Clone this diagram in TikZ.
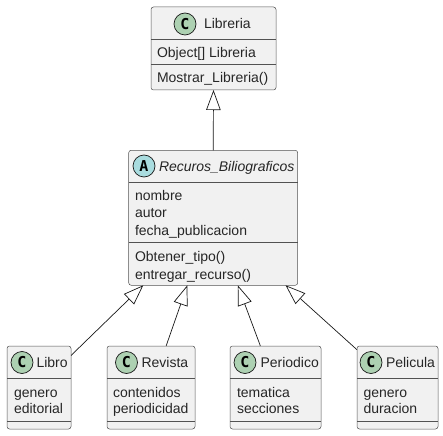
\documentclass[tikz,border=0pt]{standalone}
\usepackage{fontspec}
\setmainfont{Liberation Sans}
\newfontfamily\badgefont{DejaVu Sans Mono}
\usetikzlibrary{arrows.meta}
\definecolor{boxfill}{HTML}{F1F1F1}
\definecolor{boxline}{HTML}{181818}
\definecolor{cbadge}{HTML}{ADD1B2}
\definecolor{abadge}{HTML}{A9DCDF}
\tikzset{
  umlbox/.style={draw=boxline!75!white,fill=boxfill,line width=0.5pt,rounded corners=2.5pt,inner sep=0pt,outer sep=0pt,anchor=north west},
  rule/.style={draw=boxline!75!white,line width=0.4pt},
  txt/.style={anchor=base west,inner sep=0pt,outer sep=0pt,font=\fontsize{14}{16}\selectfont,text=black!85},
  itxt/.style={txt,font=\fontsize{14}{16}\selectfont\itshape},
  badge/.style={circle,draw=boxline,line width=0.7pt,minimum size=22pt,inner sep=0pt,font=\badgefont\bfseries\fontsize{15}{15}\selectfont},
  cb/.style={badge,fill=cbadge},
  ab/.style={badge,fill=abadge},
  inherit/.style={draw=boxline,line width=0.7pt,-{Triangle[open,length=20pt,width=14.5pt,fill=white]}}
}
\begin{document}
\begin{tikzpicture}[x=1pt,y=-1pt]
\useasboundingbox (0,0) rectangle (443,435);
% boxes
\node[umlbox,minimum width=125pt,minimum height=83pt] (libreria) at (151,7) {};
\node[umlbox,minimum width=169pt,minimum height=135pt] (recursos) at (128.7,150.3) {};
\node[umlbox,minimum width=64pt,minimum height=83pt] (libro) at (7,346) {};
\node[umlbox,minimum width=88pt,minimum height=83pt] (revista) at (107,346) {};
\node[umlbox,minimum width=91pt,minimum height=83pt] (periodico) at (230,346) {};
\node[umlbox,minimum width=81pt,minimum height=83pt] (pelicula) at (357,346) {};
% dividers
\draw[rule] (151,39.5) -- (276,39.5) (151,64.5) -- (276,64.5);
\draw[rule] (128.7,182.3) -- (297.7,182.3) (128.7,242.3) -- (297.7,242.3);
\draw[rule] (7,378) -- (71,378) (7,421.5) -- (71,421.5);
\draw[rule] (107,378) -- (195,378) (107,421.5) -- (195,421.5);
\draw[rule] (230,378) -- (321,378) (230,421.5) -- (321,421.5);
\draw[rule] (357,378) -- (438,378) (357,421.5) -- (438,421.5);
% badges
\node[cb] (blibreria) at (185,24) {C};
\node[ab] (brecursos) at (144,166) {A};
\node[cb] (blibro) at (22,362.5) {C};
\node[cb] (brevista) at (126.5,362.5) {C};
\node[cb] (bperiodico) at (245,362.5) {C};
\node[cb] (bpelicula) at (371,362.5) {C};
% titles
\node[txt] (tlibreria) at (204,29) {Libreria};
\node[itxt] (trecursos) at (159,171.5) {Recuros\_Biliograficos};
\node[txt] (tlibro) at (36.5,367.5) {Libro};
\node[txt] (trevista) at (141.5,367.5) {Revista};
\node[txt] (tperiodico) at (260.5,367.5) {Periodico};
\node[txt] (tpelicula) at (386,367.5) {Pelicula};
% members
\node[txt] (a1) at (157,58) {Object[] Libreria};
\node[txt] (m1) at (157,83) {Mostrar\_Libreria()};
\node[txt] (a2) at (135,200.5) {nombre};
\node[txt] (a3) at (135,217.5) {autor};
\node[txt] (a4) at (135,235.5) {fecha\_publicacion};
\node[txt] (m2) at (135,261.5) {Obtener\_tipo()};
\node[txt] (m3) at (135,279) {entregar\_recurso()};
\node[txt] (a5) at (14,397) {genero};
\node[txt] (a6) at (14,413.5) {editorial};
\node[txt] (a7) at (113,397) {contenidos};
\node[txt] (a8) at (113,413.5) {periodicidad};
\node[txt] (a9) at (237,397) {tematica};
\node[txt] (a10) at (237,413.5) {secciones};
\node[txt] (a11) at (363.5,397) {genero};
\node[txt] (a12) at (363.5,413.5) {duracion};
% connectors
\draw[inherit] (recursos.north) -- (libreria.south);
\draw[inherit] (libro.45) -- (recursos.224);
\draw[inherit] (revista.70) -- (recursos.249.5);
\draw[inherit] (periodico.110) -- (recursos.290.5);
\draw[inherit] (pelicula.137) -- (recursos.317.5);
\end{tikzpicture}
\end{document}
